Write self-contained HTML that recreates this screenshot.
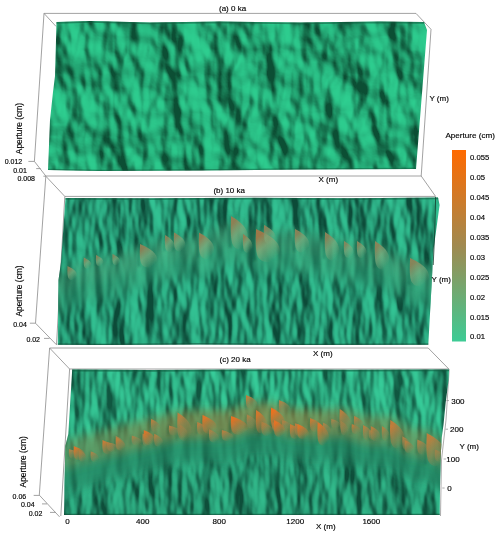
<!DOCTYPE html>
<html><head><meta charset="utf-8">
<style>
html,body{margin:0;padding:0;background:#fff;width:500px;height:537px;overflow:hidden}
svg{display:block}
text{font-family:"Liberation Sans",sans-serif;fill:#000;stroke:#000;stroke-width:0.15px}
.t{will-change:transform}
</style></head><body>
<svg width="500" height="537" viewBox="0 0 500 537" xmlns="http://www.w3.org/2000/svg">
<defs>
<linearGradient id="tintc" gradientUnits="userSpaceOnUse" x1="60" y1="0" x2="450" y2="0">
<stop offset="0" stop-color="#8c8a48" stop-opacity="0.4"/>
<stop offset="0.3" stop-color="#9c8440" stop-opacity="0.55"/>
<stop offset="0.55" stop-color="#a8823a" stop-opacity="0.6"/>
<stop offset="0.8" stop-color="#948a48" stop-opacity="0.5"/>
<stop offset="1" stop-color="#8c8a48" stop-opacity="0.45"/>
</linearGradient>
<linearGradient id="cb" x1="0" y1="0" x2="0" y2="1">
<stop offset="0" stop-color="#ff6a00"/>
<stop offset="0.5" stop-color="#a08a50"/>
<stop offset="1" stop-color="#3dcb95"/>
</linearGradient>
<filter id="fa" x="0" y="0" width="100%" height="100%" color-interpolation-filters="sRGB">
<feTurbulence type="fractalNoise" baseFrequency="0.035 0.02" numOctaves="3" seed="11" result="n"/><feGaussianBlur in="n" stdDeviation="0.5" result="n"/>
<feDiffuseLighting in="n" surfaceScale="14" diffuseConstant="1" lighting-color="#fff" result="l"><feDistantLight azimuth="-40" elevation="38"/></feDiffuseLighting>
<feComponentTransfer><feFuncR type="gamma" amplitude="1" exponent="0.8" offset="0"/></feComponentTransfer>
<feColorMatrix type="matrix" values="0.133 0 0 0 0.047  0.502 0 0 0 0.306  0.361 0 0 0 0.204  0 0 0 0 1"/></filter>
<filter id="fb" x="0" y="0" width="100%" height="100%" color-interpolation-filters="sRGB">
<feTurbulence type="fractalNoise" baseFrequency="0.05 0.018" numOctaves="3" seed="5" result="n"/><feGaussianBlur in="n" stdDeviation="0.5" result="n"/>
<feDiffuseLighting in="n" surfaceScale="8" diffuseConstant="1" lighting-color="#fff" result="l"><feDistantLight azimuth="-20" elevation="35"/></feDiffuseLighting>
<feComponentTransfer><feFuncR type="gamma" amplitude="1" exponent="0.95" offset="0"/></feComponentTransfer>
<feColorMatrix type="matrix" values="0.157 0 0 0 0.047  0.486 0 0 0 0.290  0.369 0 0 0 0.220  0 0 0 0 1"/></filter>
<filter id="fc" x="0" y="0" width="100%" height="100%" color-interpolation-filters="sRGB">
<feTurbulence type="fractalNoise" baseFrequency="0.05 0.018" numOctaves="3" seed="8" result="n"/><feGaussianBlur in="n" stdDeviation="0.5" result="n"/>
<feDiffuseLighting in="n" surfaceScale="8" diffuseConstant="1" lighting-color="#fff" result="l"><feDistantLight azimuth="-20" elevation="35"/></feDiffuseLighting>
<feComponentTransfer><feFuncR type="gamma" amplitude="1" exponent="0.9" offset="0"/></feComponentTransfer>
<feColorMatrix type="matrix" values="0.157 0 0 0 0.063  0.478 0 0 0 0.337  0.361 0 0 0 0.251  0 0 0 0 1"/></filter>
<filter id="fbs" x="0" y="0" width="100%" height="100%" color-interpolation-filters="sRGB">
<feTurbulence type="fractalNoise" baseFrequency="0.06 0.012" numOctaves="2" seed="13" result="n"/>
<feDiffuseLighting in="n" surfaceScale="12" diffuseConstant="1" lighting-color="#fff" result="l"><feDistantLight azimuth="-30" elevation="40"/></feDiffuseLighting>
<feComponentTransfer><feFuncR type="gamma" amplitude="1" exponent="0.9" offset="0"/></feComponentTransfer>
<feGaussianBlur stdDeviation="1.2 3"/>
<feColorMatrix type="matrix" values="0.157 0 0 0 0.086  0.333 0 0 0 0.392  0.247 0 0 0 0.294  0 0 0 0 1"/></filter>
<filter id="fcs" x="0" y="0" width="100%" height="100%" color-interpolation-filters="sRGB">
<feTurbulence type="fractalNoise" baseFrequency="0.07 0.012" numOctaves="2" seed="14" result="n"/>
<feDiffuseLighting in="n" surfaceScale="10" diffuseConstant="1" lighting-color="#fff" result="l"><feDistantLight azimuth="-25" elevation="40"/></feDiffuseLighting>
<feComponentTransfer><feFuncR type="gamma" amplitude="1" exponent="0.75" offset="0"/></feComponentTransfer>
<feGaussianBlur stdDeviation="1.5 4"/>
<feColorMatrix type="matrix" values="0.118 0 0 0 0.098  0.314 0 0 0 0.392  0.235 0 0 0 0.294  0 0 0 0 1"/></filter>
<filter id="bl5" x="-20%" y="-50%" width="140%" height="200%"><feGaussianBlur stdDeviation="5"/></filter>
<filter id="bl6" x="-20%" y="-50%" width="140%" height="200%"><feGaussianBlur stdDeviation="6"/></filter>
<filter id="bl07" x="-20%" y="-20%" width="140%" height="140%"><feGaussianBlur stdDeviation="0.7"/></filter>
<filter id="bl05" x="-20%" y="-20%" width="140%" height="140%"><feGaussianBlur stdDeviation="0.5"/></filter>
<filter id="bl1" x="-20%" y="-20%" width="140%" height="140%"><feGaussianBlur stdDeviation="0.8"/></filter>
<linearGradient id="gb0" x1="0" y1="0" x2="0.6" y2="1"><stop offset="0" stop-color="rgb(136, 134, 92)"/><stop offset="0.22" stop-color="rgb(136, 134, 92)" stop-opacity="0.92"/><stop offset="0.55" stop-color="rgb(122, 170, 124)" stop-opacity="0.7"/><stop offset="1" stop-color="rgb(122, 170, 124)" stop-opacity="0"/></linearGradient>
<linearGradient id="gb1" x1="0" y1="0" x2="0.6" y2="1"><stop offset="0" stop-color="rgb(136, 134, 92)"/><stop offset="0.22" stop-color="rgb(136, 134, 92)" stop-opacity="0.92"/><stop offset="0.55" stop-color="rgb(122, 170, 124)" stop-opacity="0.7"/><stop offset="1" stop-color="rgb(122, 170, 124)" stop-opacity="0"/></linearGradient>
<linearGradient id="gb2" x1="0" y1="0" x2="0.6" y2="1"><stop offset="0" stop-color="rgb(136, 134, 92)"/><stop offset="0.22" stop-color="rgb(136, 134, 92)" stop-opacity="0.92"/><stop offset="0.55" stop-color="rgb(122, 170, 124)" stop-opacity="0.7"/><stop offset="1" stop-color="rgb(122, 170, 124)" stop-opacity="0"/></linearGradient>
<linearGradient id="gb3" x1="0" y1="0" x2="0.6" y2="1"><stop offset="0" stop-color="rgb(133, 135, 94)"/><stop offset="0.22" stop-color="rgb(133, 135, 94)" stop-opacity="0.92"/><stop offset="0.55" stop-color="rgb(120, 170, 125)" stop-opacity="0.7"/><stop offset="1" stop-color="rgb(120, 170, 125)" stop-opacity="0"/></linearGradient>
<linearGradient id="gb4" x1="0" y1="0" x2="0.6" y2="1"><stop offset="0" stop-color="rgb(144, 129, 86)"/><stop offset="0.22" stop-color="rgb(144, 129, 86)" stop-opacity="0.92"/><stop offset="0.55" stop-color="rgb(127, 168, 122)" stop-opacity="0.7"/><stop offset="1" stop-color="rgb(127, 168, 122)" stop-opacity="0"/></linearGradient>
<linearGradient id="gb5" x1="0" y1="0" x2="0.6" y2="1"><stop offset="0" stop-color="rgb(138, 132, 90)"/><stop offset="0.22" stop-color="rgb(138, 132, 90)" stop-opacity="0.92"/><stop offset="0.55" stop-color="rgb(123, 169, 124)" stop-opacity="0.7"/><stop offset="1" stop-color="rgb(123, 169, 124)" stop-opacity="0"/></linearGradient>
<linearGradient id="gb6" x1="0" y1="0" x2="0.6" y2="1"><stop offset="0" stop-color="rgb(141, 131, 88)"/><stop offset="0.22" stop-color="rgb(141, 131, 88)" stop-opacity="0.92"/><stop offset="0.55" stop-color="rgb(125, 169, 123)" stop-opacity="0.7"/><stop offset="1" stop-color="rgb(125, 169, 123)" stop-opacity="0"/></linearGradient>
<linearGradient id="gb7" x1="0" y1="0" x2="0.6" y2="1"><stop offset="0" stop-color="rgb(149, 126, 82)"/><stop offset="0.22" stop-color="rgb(149, 126, 82)" stop-opacity="0.92"/><stop offset="0.55" stop-color="rgb(130, 167, 120)" stop-opacity="0.7"/><stop offset="1" stop-color="rgb(130, 167, 120)" stop-opacity="0"/></linearGradient>
<linearGradient id="gb8" x1="0" y1="0" x2="0.6" y2="1"><stop offset="0" stop-color="rgb(149, 126, 82)"/><stop offset="0.22" stop-color="rgb(149, 126, 82)" stop-opacity="0.92"/><stop offset="0.55" stop-color="rgb(130, 167, 120)" stop-opacity="0.7"/><stop offset="1" stop-color="rgb(130, 167, 120)" stop-opacity="0"/></linearGradient>
<linearGradient id="gb9" x1="0" y1="0" x2="0.6" y2="1"><stop offset="0" stop-color="rgb(147, 128, 84)"/><stop offset="0.22" stop-color="rgb(147, 128, 84)" stop-opacity="0.92"/><stop offset="0.55" stop-color="rgb(129, 168, 121)" stop-opacity="0.7"/><stop offset="1" stop-color="rgb(129, 168, 121)" stop-opacity="0"/></linearGradient>
<linearGradient id="gb10" x1="0" y1="0" x2="0.6" y2="1"><stop offset="0" stop-color="rgb(163, 119, 72)"/><stop offset="0.22" stop-color="rgb(163, 119, 72)" stop-opacity="0.92"/><stop offset="0.55" stop-color="rgb(139, 165, 116)" stop-opacity="0.7"/><stop offset="1" stop-color="rgb(139, 165, 116)" stop-opacity="0"/></linearGradient>
<linearGradient id="gb11" x1="0" y1="0" x2="0.6" y2="1"><stop offset="0" stop-color="rgb(141, 131, 88)"/><stop offset="0.22" stop-color="rgb(141, 131, 88)" stop-opacity="0.92"/><stop offset="0.55" stop-color="rgb(125, 169, 123)" stop-opacity="0.7"/><stop offset="1" stop-color="rgb(125, 169, 123)" stop-opacity="0"/></linearGradient>
<linearGradient id="gb12" x1="0" y1="0" x2="0.6" y2="1"><stop offset="0" stop-color="rgb(141, 131, 88)"/><stop offset="0.22" stop-color="rgb(141, 131, 88)" stop-opacity="0.92"/><stop offset="0.55" stop-color="rgb(125, 169, 123)" stop-opacity="0.7"/><stop offset="1" stop-color="rgb(125, 169, 123)" stop-opacity="0"/></linearGradient>
<linearGradient id="gb13" x1="0" y1="0" x2="0.6" y2="1"><stop offset="0" stop-color="rgb(141, 131, 88)"/><stop offset="0.22" stop-color="rgb(141, 131, 88)" stop-opacity="0.92"/><stop offset="0.55" stop-color="rgb(125, 169, 123)" stop-opacity="0.7"/><stop offset="1" stop-color="rgb(125, 169, 123)" stop-opacity="0"/></linearGradient>
<linearGradient id="gb14" x1="0" y1="0" x2="0.6" y2="1"><stop offset="0" stop-color="rgb(136, 134, 92)"/><stop offset="0.22" stop-color="rgb(136, 134, 92)" stop-opacity="0.92"/><stop offset="0.55" stop-color="rgb(122, 170, 124)" stop-opacity="0.7"/><stop offset="1" stop-color="rgb(122, 170, 124)" stop-opacity="0"/></linearGradient>
<linearGradient id="gb15" x1="0" y1="0" x2="0.6" y2="1"><stop offset="0" stop-color="rgb(136, 134, 92)"/><stop offset="0.22" stop-color="rgb(136, 134, 92)" stop-opacity="0.92"/><stop offset="0.55" stop-color="rgb(122, 170, 124)" stop-opacity="0.7"/><stop offset="1" stop-color="rgb(122, 170, 124)" stop-opacity="0"/></linearGradient>
<linearGradient id="gb16" x1="0" y1="0" x2="0.6" y2="1"><stop offset="0" stop-color="rgb(141, 131, 88)"/><stop offset="0.22" stop-color="rgb(141, 131, 88)" stop-opacity="0.92"/><stop offset="0.55" stop-color="rgb(125, 169, 123)" stop-opacity="0.7"/><stop offset="1" stop-color="rgb(125, 169, 123)" stop-opacity="0"/></linearGradient>
<linearGradient id="gb17" x1="0" y1="0" x2="0.6" y2="1"><stop offset="0" stop-color="rgb(141, 131, 88)"/><stop offset="0.22" stop-color="rgb(141, 131, 88)" stop-opacity="0.92"/><stop offset="0.55" stop-color="rgb(125, 169, 123)" stop-opacity="0.7"/><stop offset="1" stop-color="rgb(125, 169, 123)" stop-opacity="0"/></linearGradient><linearGradient id="gc0" x1="0" y1="0" x2="0.6" y2="1"><stop offset="0" stop-color="rgb(165, 133, 75)"/><stop offset="0.22" stop-color="rgb(165, 133, 75)" stop-opacity="0.92"/><stop offset="0.55" stop-color="rgb(128, 135, 85)" stop-opacity="0.7"/><stop offset="1" stop-color="rgb(128, 135, 85)" stop-opacity="0"/></linearGradient>
<linearGradient id="gc1" x1="0" y1="0" x2="0.6" y2="1"><stop offset="0" stop-color="rgb(165, 132, 74)"/><stop offset="0.22" stop-color="rgb(165, 132, 74)" stop-opacity="0.92"/><stop offset="0.55" stop-color="rgb(128, 134, 84)" stop-opacity="0.7"/><stop offset="1" stop-color="rgb(128, 134, 84)" stop-opacity="0"/></linearGradient>
<linearGradient id="gc2" x1="0" y1="0" x2="0.6" y2="1"><stop offset="0" stop-color="rgb(167, 132, 73)"/><stop offset="0.22" stop-color="rgb(167, 132, 73)" stop-opacity="0.92"/><stop offset="0.55" stop-color="rgb(130, 134, 83)" stop-opacity="0.7"/><stop offset="1" stop-color="rgb(130, 134, 83)" stop-opacity="0"/></linearGradient>
<linearGradient id="gc3" x1="0" y1="0" x2="0.6" y2="1"><stop offset="0" stop-color="rgb(172, 130, 70)"/><stop offset="0.22" stop-color="rgb(172, 130, 70)" stop-opacity="0.92"/><stop offset="0.55" stop-color="rgb(134, 133, 82)" stop-opacity="0.7"/><stop offset="1" stop-color="rgb(134, 133, 82)" stop-opacity="0"/></linearGradient>
<linearGradient id="gc4" x1="0" y1="0" x2="0.6" y2="1"><stop offset="0" stop-color="rgb(167, 132, 73)"/><stop offset="0.22" stop-color="rgb(167, 132, 73)" stop-opacity="0.92"/><stop offset="0.55" stop-color="rgb(130, 134, 84)" stop-opacity="0.7"/><stop offset="1" stop-color="rgb(130, 134, 84)" stop-opacity="0"/></linearGradient>
<linearGradient id="gc5" x1="0" y1="0" x2="0.6" y2="1"><stop offset="0" stop-color="rgb(165, 132, 74)"/><stop offset="0.22" stop-color="rgb(165, 132, 74)" stop-opacity="0.92"/><stop offset="0.55" stop-color="rgb(129, 134, 84)" stop-opacity="0.7"/><stop offset="1" stop-color="rgb(129, 134, 84)" stop-opacity="0"/></linearGradient>
<linearGradient id="gc6" x1="0" y1="0" x2="0.6" y2="1"><stop offset="0" stop-color="rgb(172, 130, 70)"/><stop offset="0.22" stop-color="rgb(172, 130, 70)" stop-opacity="0.92"/><stop offset="0.55" stop-color="rgb(134, 133, 81)" stop-opacity="0.7"/><stop offset="1" stop-color="rgb(134, 133, 81)" stop-opacity="0"/></linearGradient>
<linearGradient id="gc7" x1="0" y1="0" x2="0.6" y2="1"><stop offset="0" stop-color="rgb(175, 130, 68)"/><stop offset="0.22" stop-color="rgb(175, 130, 68)" stop-opacity="0.92"/><stop offset="0.55" stop-color="rgb(136, 132, 80)" stop-opacity="0.7"/><stop offset="1" stop-color="rgb(136, 132, 80)" stop-opacity="0"/></linearGradient>
<linearGradient id="gc8" x1="0" y1="0" x2="0.6" y2="1"><stop offset="0" stop-color="rgb(175, 130, 68)"/><stop offset="0.22" stop-color="rgb(175, 130, 68)" stop-opacity="0.92"/><stop offset="0.55" stop-color="rgb(136, 132, 80)" stop-opacity="0.7"/><stop offset="1" stop-color="rgb(136, 132, 80)" stop-opacity="0"/></linearGradient>
<linearGradient id="gc9" x1="0" y1="0" x2="0.6" y2="1"><stop offset="0" stop-color="rgb(186, 126, 62)"/><stop offset="0.22" stop-color="rgb(186, 126, 62)" stop-opacity="0.92"/><stop offset="0.55" stop-color="rgb(144, 130, 76)" stop-opacity="0.7"/><stop offset="1" stop-color="rgb(144, 130, 76)" stop-opacity="0"/></linearGradient>
<linearGradient id="gc10" x1="0" y1="0" x2="0.6" y2="1"><stop offset="0" stop-color="rgb(183, 127, 64)"/><stop offset="0.22" stop-color="rgb(183, 127, 64)" stop-opacity="0.92"/><stop offset="0.55" stop-color="rgb(142, 131, 77)" stop-opacity="0.7"/><stop offset="1" stop-color="rgb(142, 131, 77)" stop-opacity="0"/></linearGradient>
<linearGradient id="gc11" x1="0" y1="0" x2="0.6" y2="1"><stop offset="0" stop-color="rgb(167, 132, 73)"/><stop offset="0.22" stop-color="rgb(167, 132, 73)" stop-opacity="0.92"/><stop offset="0.55" stop-color="rgb(130, 134, 84)" stop-opacity="0.7"/><stop offset="1" stop-color="rgb(130, 134, 84)" stop-opacity="0"/></linearGradient>
<linearGradient id="gc12" x1="0" y1="0" x2="0.6" y2="1"><stop offset="0" stop-color="rgb(179, 128, 66)"/><stop offset="0.22" stop-color="rgb(179, 128, 66)" stop-opacity="0.92"/><stop offset="0.55" stop-color="rgb(139, 132, 79)" stop-opacity="0.7"/><stop offset="1" stop-color="rgb(139, 132, 79)" stop-opacity="0"/></linearGradient>
<linearGradient id="gc13" x1="0" y1="0" x2="0.6" y2="1"><stop offset="0" stop-color="rgb(167, 132, 73)"/><stop offset="0.22" stop-color="rgb(167, 132, 73)" stop-opacity="0.92"/><stop offset="0.55" stop-color="rgb(130, 134, 84)" stop-opacity="0.7"/><stop offset="1" stop-color="rgb(130, 134, 84)" stop-opacity="0"/></linearGradient>
<linearGradient id="gc14" x1="0" y1="0" x2="0.6" y2="1"><stop offset="0" stop-color="rgb(168, 131, 72)"/><stop offset="0.22" stop-color="rgb(168, 131, 72)" stop-opacity="0.92"/><stop offset="0.55" stop-color="rgb(131, 134, 83)" stop-opacity="0.7"/><stop offset="1" stop-color="rgb(131, 134, 83)" stop-opacity="0"/></linearGradient>
<linearGradient id="gc15" x1="0" y1="0" x2="0.6" y2="1"><stop offset="0" stop-color="rgb(178, 129, 66)"/><stop offset="0.22" stop-color="rgb(178, 129, 66)" stop-opacity="0.92"/><stop offset="0.55" stop-color="rgb(138, 132, 79)" stop-opacity="0.7"/><stop offset="1" stop-color="rgb(138, 132, 79)" stop-opacity="0"/></linearGradient>
<linearGradient id="gc16" x1="0" y1="0" x2="0.6" y2="1"><stop offset="0" stop-color="rgb(173, 130, 69)"/><stop offset="0.22" stop-color="rgb(173, 130, 69)" stop-opacity="0.92"/><stop offset="0.55" stop-color="rgb(135, 133, 81)" stop-opacity="0.7"/><stop offset="1" stop-color="rgb(135, 133, 81)" stop-opacity="0"/></linearGradient>
<linearGradient id="gc17" x1="0" y1="0" x2="0.6" y2="1"><stop offset="0" stop-color="rgb(165, 132, 74)"/><stop offset="0.22" stop-color="rgb(165, 132, 74)" stop-opacity="0.92"/><stop offset="0.55" stop-color="rgb(128, 134, 84)" stop-opacity="0.7"/><stop offset="1" stop-color="rgb(128, 134, 84)" stop-opacity="0"/></linearGradient>
<linearGradient id="gc18" x1="0" y1="0" x2="0.6" y2="1"><stop offset="0" stop-color="rgb(186, 126, 62)"/><stop offset="0.22" stop-color="rgb(186, 126, 62)" stop-opacity="0.92"/><stop offset="0.55" stop-color="rgb(144, 130, 76)" stop-opacity="0.7"/><stop offset="1" stop-color="rgb(144, 130, 76)" stop-opacity="0"/></linearGradient>
<linearGradient id="gc19" x1="0" y1="0" x2="0.6" y2="1"><stop offset="0" stop-color="rgb(198, 123, 54)"/><stop offset="0.22" stop-color="rgb(198, 123, 54)" stop-opacity="0.92"/><stop offset="0.55" stop-color="rgb(153, 128, 71)" stop-opacity="0.7"/><stop offset="1" stop-color="rgb(153, 128, 71)" stop-opacity="0"/></linearGradient>
<linearGradient id="gc20" x1="0" y1="0" x2="0.6" y2="1"><stop offset="0" stop-color="rgb(167, 132, 73)"/><stop offset="0.22" stop-color="rgb(167, 132, 73)" stop-opacity="0.92"/><stop offset="0.55" stop-color="rgb(130, 134, 84)" stop-opacity="0.7"/><stop offset="1" stop-color="rgb(130, 134, 84)" stop-opacity="0"/></linearGradient>
<linearGradient id="gc21" x1="0" y1="0" x2="0.6" y2="1"><stop offset="0" stop-color="rgb(165, 132, 74)"/><stop offset="0.22" stop-color="rgb(165, 132, 74)" stop-opacity="0.92"/><stop offset="0.55" stop-color="rgb(128, 134, 84)" stop-opacity="0.7"/><stop offset="1" stop-color="rgb(128, 134, 84)" stop-opacity="0"/></linearGradient>
<linearGradient id="gc22" x1="0" y1="0" x2="0.6" y2="1"><stop offset="0" stop-color="rgb(183, 127, 64)"/><stop offset="0.22" stop-color="rgb(183, 127, 64)" stop-opacity="0.92"/><stop offset="0.55" stop-color="rgb(142, 131, 77)" stop-opacity="0.7"/><stop offset="1" stop-color="rgb(142, 131, 77)" stop-opacity="0"/></linearGradient>
<linearGradient id="gc23" x1="0" y1="0" x2="0.6" y2="1"><stop offset="0" stop-color="rgb(187, 126, 61)"/><stop offset="0.22" stop-color="rgb(187, 126, 61)" stop-opacity="0.92"/><stop offset="0.55" stop-color="rgb(145, 130, 75)" stop-opacity="0.7"/><stop offset="1" stop-color="rgb(145, 130, 75)" stop-opacity="0"/></linearGradient>
<linearGradient id="gc24" x1="0" y1="0" x2="0.6" y2="1"><stop offset="0" stop-color="rgb(172, 130, 70)"/><stop offset="0.22" stop-color="rgb(172, 130, 70)" stop-opacity="0.92"/><stop offset="0.55" stop-color="rgb(134, 133, 81)" stop-opacity="0.7"/><stop offset="1" stop-color="rgb(134, 133, 81)" stop-opacity="0"/></linearGradient>
<linearGradient id="gc25" x1="0" y1="0" x2="0.6" y2="1"><stop offset="0" stop-color="rgb(175, 130, 68)"/><stop offset="0.22" stop-color="rgb(175, 130, 68)" stop-opacity="0.92"/><stop offset="0.55" stop-color="rgb(136, 132, 80)" stop-opacity="0.7"/><stop offset="1" stop-color="rgb(136, 132, 80)" stop-opacity="0"/></linearGradient>
<linearGradient id="gc26" x1="0" y1="0" x2="0.6" y2="1"><stop offset="0" stop-color="rgb(179, 128, 66)"/><stop offset="0.22" stop-color="rgb(179, 128, 66)" stop-opacity="0.92"/><stop offset="0.55" stop-color="rgb(139, 132, 79)" stop-opacity="0.7"/><stop offset="1" stop-color="rgb(139, 132, 79)" stop-opacity="0"/></linearGradient>
<linearGradient id="gc27" x1="0" y1="0" x2="0.6" y2="1"><stop offset="0" stop-color="rgb(172, 130, 70)"/><stop offset="0.22" stop-color="rgb(172, 130, 70)" stop-opacity="0.92"/><stop offset="0.55" stop-color="rgb(134, 133, 82)" stop-opacity="0.7"/><stop offset="1" stop-color="rgb(134, 133, 82)" stop-opacity="0"/></linearGradient>
<linearGradient id="gc28" x1="0" y1="0" x2="0.6" y2="1"><stop offset="0" stop-color="rgb(173, 130, 70)"/><stop offset="0.22" stop-color="rgb(173, 130, 70)" stop-opacity="0.92"/><stop offset="0.55" stop-color="rgb(134, 133, 81)" stop-opacity="0.7"/><stop offset="1" stop-color="rgb(134, 133, 81)" stop-opacity="0"/></linearGradient>
<linearGradient id="gc29" x1="0" y1="0" x2="0.6" y2="1"><stop offset="0" stop-color="rgb(167, 132, 73)"/><stop offset="0.22" stop-color="rgb(167, 132, 73)" stop-opacity="0.92"/><stop offset="0.55" stop-color="rgb(130, 134, 84)" stop-opacity="0.7"/><stop offset="1" stop-color="rgb(130, 134, 84)" stop-opacity="0"/></linearGradient>
<linearGradient id="gc30" x1="0" y1="0" x2="0.6" y2="1"><stop offset="0" stop-color="rgb(220, 117, 42)"/><stop offset="0.22" stop-color="rgb(220, 117, 42)" stop-opacity="0.92"/><stop offset="0.55" stop-color="rgb(170, 124, 63)" stop-opacity="0.7"/><stop offset="1" stop-color="rgb(170, 124, 63)" stop-opacity="0"/></linearGradient>
<linearGradient id="gc31" x1="0" y1="0" x2="0.6" y2="1"><stop offset="0" stop-color="rgb(200, 123, 54)"/><stop offset="0.22" stop-color="rgb(200, 123, 54)" stop-opacity="0.92"/><stop offset="0.55" stop-color="rgb(155, 128, 71)" stop-opacity="0.7"/><stop offset="1" stop-color="rgb(155, 128, 71)" stop-opacity="0"/></linearGradient>
<linearGradient id="gc32" x1="0" y1="0" x2="0.6" y2="1"><stop offset="0" stop-color="rgb(190, 126, 60)"/><stop offset="0.22" stop-color="rgb(190, 126, 60)" stop-opacity="0.92"/><stop offset="0.55" stop-color="rgb(147, 130, 75)" stop-opacity="0.7"/><stop offset="1" stop-color="rgb(147, 130, 75)" stop-opacity="0"/></linearGradient>
<linearGradient id="gc33" x1="0" y1="0" x2="0.6" y2="1"><stop offset="0" stop-color="rgb(220, 117, 42)"/><stop offset="0.22" stop-color="rgb(220, 117, 42)" stop-opacity="0.92"/><stop offset="0.55" stop-color="rgb(170, 124, 63)" stop-opacity="0.7"/><stop offset="1" stop-color="rgb(170, 124, 63)" stop-opacity="0"/></linearGradient>
<linearGradient id="gc34" x1="0" y1="0" x2="0.6" y2="1"><stop offset="0" stop-color="rgb(180, 128, 66)"/><stop offset="0.22" stop-color="rgb(180, 128, 66)" stop-opacity="0.92"/><stop offset="0.55" stop-color="rgb(140, 132, 79)" stop-opacity="0.7"/><stop offset="1" stop-color="rgb(140, 132, 79)" stop-opacity="0"/></linearGradient>
<linearGradient id="gc35" x1="0" y1="0" x2="0.6" y2="1"><stop offset="0" stop-color="rgb(185, 127, 63)"/><stop offset="0.22" stop-color="rgb(185, 127, 63)" stop-opacity="0.92"/><stop offset="0.55" stop-color="rgb(143, 131, 77)" stop-opacity="0.7"/><stop offset="1" stop-color="rgb(143, 131, 77)" stop-opacity="0"/></linearGradient>
<linearGradient id="gc36" x1="0" y1="0" x2="0.6" y2="1"><stop offset="0" stop-color="rgb(225, 116, 39)"/><stop offset="0.22" stop-color="rgb(225, 116, 39)" stop-opacity="0.92"/><stop offset="0.55" stop-color="rgb(173, 123, 61)" stop-opacity="0.7"/><stop offset="1" stop-color="rgb(173, 123, 61)" stop-opacity="0"/></linearGradient>
<linearGradient id="gc37" x1="0" y1="0" x2="0.6" y2="1"><stop offset="0" stop-color="rgb(230, 114, 36)"/><stop offset="0.22" stop-color="rgb(230, 114, 36)" stop-opacity="0.92"/><stop offset="0.55" stop-color="rgb(177, 122, 59)" stop-opacity="0.7"/><stop offset="1" stop-color="rgb(177, 122, 59)" stop-opacity="0"/></linearGradient>
<linearGradient id="gc38" x1="0" y1="0" x2="0.6" y2="1"><stop offset="0" stop-color="rgb(190, 126, 60)"/><stop offset="0.22" stop-color="rgb(190, 126, 60)" stop-opacity="0.92"/><stop offset="0.55" stop-color="rgb(147, 130, 75)" stop-opacity="0.7"/><stop offset="1" stop-color="rgb(147, 130, 75)" stop-opacity="0"/></linearGradient>
<linearGradient id="gc39" x1="0" y1="0" x2="0.6" y2="1"><stop offset="0" stop-color="rgb(215, 119, 45)"/><stop offset="0.22" stop-color="rgb(215, 119, 45)" stop-opacity="0.92"/><stop offset="0.55" stop-color="rgb(166, 125, 65)" stop-opacity="0.7"/><stop offset="1" stop-color="rgb(166, 125, 65)" stop-opacity="0"/></linearGradient>
<linearGradient id="gc40" x1="0" y1="0" x2="0.6" y2="1"><stop offset="0" stop-color="rgb(240, 112, 30)"/><stop offset="0.22" stop-color="rgb(240, 112, 30)" stop-opacity="0.92"/><stop offset="0.55" stop-color="rgb(185, 120, 55)" stop-opacity="0.7"/><stop offset="1" stop-color="rgb(185, 120, 55)" stop-opacity="0"/></linearGradient>
<linearGradient id="gc41" x1="0" y1="0" x2="0.6" y2="1"><stop offset="0" stop-color="rgb(230, 114, 36)"/><stop offset="0.22" stop-color="rgb(230, 114, 36)" stop-opacity="0.92"/><stop offset="0.55" stop-color="rgb(177, 122, 59)" stop-opacity="0.7"/><stop offset="1" stop-color="rgb(177, 122, 59)" stop-opacity="0"/></linearGradient>
<linearGradient id="gc42" x1="0" y1="0" x2="0.6" y2="1"><stop offset="0" stop-color="rgb(175, 130, 69)"/><stop offset="0.22" stop-color="rgb(175, 130, 69)" stop-opacity="0.92"/><stop offset="0.55" stop-color="rgb(136, 133, 81)" stop-opacity="0.7"/><stop offset="1" stop-color="rgb(136, 133, 81)" stop-opacity="0"/></linearGradient>
<linearGradient id="gc43" x1="0" y1="0" x2="0.6" y2="1"><stop offset="0" stop-color="rgb(200, 123, 54)"/><stop offset="0.22" stop-color="rgb(200, 123, 54)" stop-opacity="0.92"/><stop offset="0.55" stop-color="rgb(155, 128, 71)" stop-opacity="0.7"/><stop offset="1" stop-color="rgb(155, 128, 71)" stop-opacity="0"/></linearGradient>
<linearGradient id="gc44" x1="0" y1="0" x2="0.6" y2="1"><stop offset="0" stop-color="rgb(225, 116, 39)"/><stop offset="0.22" stop-color="rgb(225, 116, 39)" stop-opacity="0.92"/><stop offset="0.55" stop-color="rgb(173, 123, 61)" stop-opacity="0.7"/><stop offset="1" stop-color="rgb(173, 123, 61)" stop-opacity="0"/></linearGradient>
<linearGradient id="gc45" x1="0" y1="0" x2="0.6" y2="1"><stop offset="0" stop-color="rgb(220, 117, 42)"/><stop offset="0.22" stop-color="rgb(220, 117, 42)" stop-opacity="0.92"/><stop offset="0.55" stop-color="rgb(170, 124, 63)" stop-opacity="0.7"/><stop offset="1" stop-color="rgb(170, 124, 63)" stop-opacity="0"/></linearGradient>
<linearGradient id="gc46" x1="0" y1="0" x2="0.6" y2="1"><stop offset="0" stop-color="rgb(185, 127, 63)"/><stop offset="0.22" stop-color="rgb(185, 127, 63)" stop-opacity="0.92"/><stop offset="0.55" stop-color="rgb(143, 131, 77)" stop-opacity="0.7"/><stop offset="1" stop-color="rgb(143, 131, 77)" stop-opacity="0"/></linearGradient>
<linearGradient id="gc47" x1="0" y1="0" x2="0.6" y2="1"><stop offset="0" stop-color="rgb(180, 128, 66)"/><stop offset="0.22" stop-color="rgb(180, 128, 66)" stop-opacity="0.92"/><stop offset="0.55" stop-color="rgb(140, 132, 79)" stop-opacity="0.7"/><stop offset="1" stop-color="rgb(140, 132, 79)" stop-opacity="0"/></linearGradient>
<linearGradient id="gc48" x1="0" y1="0" x2="0.6" y2="1"><stop offset="0" stop-color="rgb(180, 128, 66)"/><stop offset="0.22" stop-color="rgb(180, 128, 66)" stop-opacity="0.92"/><stop offset="0.55" stop-color="rgb(140, 132, 79)" stop-opacity="0.7"/><stop offset="1" stop-color="rgb(140, 132, 79)" stop-opacity="0"/></linearGradient>
<linearGradient id="gc49" x1="0" y1="0" x2="0.6" y2="1"><stop offset="0" stop-color="rgb(185, 127, 63)"/><stop offset="0.22" stop-color="rgb(185, 127, 63)" stop-opacity="0.92"/><stop offset="0.55" stop-color="rgb(143, 131, 77)" stop-opacity="0.7"/><stop offset="1" stop-color="rgb(143, 131, 77)" stop-opacity="0"/></linearGradient>
<linearGradient id="gc50" x1="0" y1="0" x2="0.6" y2="1"><stop offset="0" stop-color="rgb(195, 124, 57)"/><stop offset="0.22" stop-color="rgb(195, 124, 57)" stop-opacity="0.92"/><stop offset="0.55" stop-color="rgb(151, 129, 73)" stop-opacity="0.7"/><stop offset="1" stop-color="rgb(151, 129, 73)" stop-opacity="0"/></linearGradient>
<linearGradient id="gc51" x1="0" y1="0" x2="0.6" y2="1"><stop offset="0" stop-color="rgb(180, 128, 66)"/><stop offset="0.22" stop-color="rgb(180, 128, 66)" stop-opacity="0.92"/><stop offset="0.55" stop-color="rgb(140, 132, 79)" stop-opacity="0.7"/><stop offset="1" stop-color="rgb(140, 132, 79)" stop-opacity="0"/></linearGradient>
<linearGradient id="gc52" x1="0" y1="0" x2="0.6" y2="1"><stop offset="0" stop-color="rgb(190, 126, 60)"/><stop offset="0.22" stop-color="rgb(190, 126, 60)" stop-opacity="0.92"/><stop offset="0.55" stop-color="rgb(147, 130, 75)" stop-opacity="0.7"/><stop offset="1" stop-color="rgb(147, 130, 75)" stop-opacity="0"/></linearGradient>
<clipPath id="ca"><polygon points="56.5,22 90,21 150,22.5 220,21.5 300,22.5 380,21.5 424,22 427,30 416,169 300,169.5 200,170.5 98,171 48,170 50,120 53,92 55,76"/></clipPath>
<clipPath id="cbp"><polygon points="65.5,198 150,198.3 250,197.7 350,198.2 438,197.6 439.6,205 433.5,250 428.3,344.8 300,345 200,344.6 100,345 57.8,344.8 58.5,280 61,262"/></clipPath>
<clipPath id="cc"><polygon points="72.2,369.6 150,369.9 250,369.4 350,369.8 449,369.4 448.6,380 445.7,402.4 443.5,424.7 441.7,438 440.6,458 440.1,480 439.7,515 64,515 65.3,446 68.3,434"/></clipPath>
</defs>
<rect width="500" height="537" fill="#fff"/>
<g stroke="#8a8a8a" stroke-width="0.8" fill="none">
<path d="M44,13.4H416L431,29.3L421.2,176H45.8L34.4,161.4L44,13.4L56,26.4"/>
<path d="M28.4,161.4H34.4M36.2,168.6H40.6M43.4,176.2H45.8"/>
<path d="M45.8,176.2L64.8,196.4H435.6L421.2,176M45.8,176.2L35.5,323.2L56.5,344.8M64.8,196.4L56.5,344.8"/>
<path d="M29.9,323.2H35.5M44,338.4H49.6"/>
<path d="M49.6,348H428.2L448.8,369H69.6L49.6,348L39.3,495.1L59.6,516.9M69.6,369L60.8,516"/>
<path d="M33.7,495.4H39.6M42,503.9H47M50,512.4H55.6"/>
<path d="M449.2,369L447.6,395L446,420L441.5,460L440.5,516" stroke-width="0.7"/>
<path d="M446.4,400.6H449M445.5,429.2H448M443.6,459H446M442.3,488H444.6" stroke-width="0.7"/>
</g>
<g clip-path="url(#ca)"><rect x="40" y="15" width="400" height="160" filter="url(#fa)"/></g>
<g clip-path="url(#cbp)"><rect x="50" y="190" width="400" height="160" filter="url(#fb)"/></g>
<g clip-path="url(#cc)"><rect x="55" y="360" width="400" height="160" filter="url(#fc)"/></g>
<mask id="mb" maskUnits="userSpaceOnUse" x="0" y="0" width="500" height="537"><path d="M55.0,275.0 L66.0,273.0 L83.0,263.0 L108.0,260.0 L139.0,249.0 L168.0,241.0 L200.0,238.0 L232.0,223.0 L258.0,234.0 L296.0,233.0 L326.0,239.0 L358.0,246.0 L378.0,248.0 L410.0,263.0 L435.0,271.0 L445.0,273.0 L445.0,310.0 L435.0,308.0 L410.0,300.0 L378.0,285.0 L358.0,283.0 L326.0,276.0 L296.0,270.0 L258.0,271.0 L232.0,260.0 L200.0,275.0 L168.0,278.0 L139.0,286.0 L108.0,297.0 L83.0,300.0 L66.0,310.0 L55.0,312.0Z" fill="#fff" fill-opacity="0.8" filter="url(#bl6)"/></mask>
<g clip-path="url(#cbp)">
<rect x="50" y="190" width="400" height="160" filter="url(#fbs)" mask="url(#mb)"/>
<path d="M55.0,272.0 L66.0,270.0 L83.0,260.0 L108.0,257.0 L139.0,246.0 L168.0,238.0 L200.0,235.0 L232.0,220.0 L258.0,231.0 L296.0,230.0 L326.0,236.0 L358.0,243.0 L378.0,245.0 L410.0,260.0 L435.0,268.0 L445.0,270.0 L445.0,292.0 L435.0,290.0 L410.0,282.0 L378.0,267.0 L358.0,265.0 L326.0,258.0 L296.0,252.0 L258.0,253.0 L232.0,242.0 L200.0,257.0 L168.0,260.0 L139.0,268.0 L108.0,279.0 L83.0,282.0 L66.0,292.0 L55.0,294.0Z" fill="#8caa80" opacity="0.1" filter="url(#bl5)"/>
</g><mask id="mc" maskUnits="userSpaceOnUse" x="0" y="0" width="500" height="537"><path d="M60.0,451.0 L73.0,446.0 L100.0,439.0 L150.0,426.0 L180.0,419.0 L200.0,418.0 L230.0,418.0 L250.0,411.0 L272.0,411.0 L290.0,416.0 L320.0,418.0 L342.0,416.0 L365.0,424.0 L392.0,424.0 L410.0,436.0 L430.0,438.0 L440.0,446.0 L455.0,448.0 L455.0,492.0 L440.0,490.0 L430.0,482.0 L410.0,480.0 L392.0,468.0 L365.0,468.0 L342.0,460.0 L320.0,462.0 L290.0,460.0 L272.0,455.0 L250.0,455.0 L230.0,462.0 L200.0,462.0 L180.0,463.0 L150.0,470.0 L100.0,483.0 L73.0,490.0 L60.0,495.0Z" fill="#fff" fill-opacity="0.8" filter="url(#bl6)"/></mask>
<g clip-path="url(#cc)">
<rect x="55" y="360" width="400" height="160" filter="url(#fcs)" mask="url(#mc)"/>
<path d="M60.0,467.0 L73.0,462.0 L100.0,455.0 L150.0,442.0 L180.0,435.0 L200.0,434.0 L230.0,434.0 L250.0,427.0 L272.0,427.0 L290.0,432.0 L320.0,434.0 L342.0,432.0 L365.0,440.0 L392.0,440.0 L410.0,452.0 L430.0,454.0 L440.0,462.0 L455.0,464.0 L455.0,490.0 L440.0,488.0 L430.0,480.0 L410.0,478.0 L392.0,466.0 L365.0,466.0 L342.0,458.0 L320.0,460.0 L290.0,458.0 L272.0,453.0 L250.0,453.0 L230.0,460.0 L200.0,460.0 L180.0,461.0 L150.0,468.0 L100.0,481.0 L73.0,488.0 L60.0,493.0Z" fill="#1e7858" opacity="0.45" filter="url(#bl5)"/>
<path d="M60.0,443.0 L73.0,438.0 L100.0,431.0 L150.0,418.0 L180.0,411.0 L200.0,410.0 L230.0,410.0 L250.0,403.0 L272.0,403.0 L290.0,408.0 L320.0,410.0 L342.0,408.0 L365.0,416.0 L392.0,416.0 L410.0,428.0 L430.0,430.0 L440.0,438.0 L455.0,440.0 L455.0,468.0 L440.0,466.0 L430.0,458.0 L410.0,456.0 L392.0,444.0 L365.0,444.0 L342.0,436.0 L320.0,438.0 L290.0,436.0 L272.0,431.0 L250.0,431.0 L230.0,438.0 L200.0,438.0 L180.0,439.0 L150.0,446.0 L100.0,459.0 L73.0,466.0 L60.0,471.0Z" fill="url(#tintc)" opacity="1" filter="url(#bl5)"/>
</g>
<g clip-path="url(#cc)"><path d="M60.0,495.0 L73.0,490.0 L100.0,483.0 L150.0,470.0 L180.0,463.0 L200.0,462.0 L230.0,462.0 L250.0,455.0 L272.0,455.0 L290.0,460.0 L320.0,462.0 L342.0,460.0 L365.0,468.0 L392.0,468.0 L410.0,480.0 L430.0,482.0 L440.0,490.0 L455.0,492.0 L455,530 L60,530Z" fill="#000" opacity="0.09" filter="url(#bl6)"/></g>
<g clip-path="url(#cbp)">
<g filter="url(#bl1)"><path d="M67.5,266.0 C67.0,270.5 66.3,275.0 67.0,279.5" stroke="#0f4a34" stroke-width="1.4" fill="none" opacity="0.4"/><path d="M83.8,257.5 C83.4,261.1 82.8,264.7 83.4,268.3" stroke="#0f4a34" stroke-width="1.4" fill="none" opacity="0.4"/><path d="M96.0,255.0 C95.6,258.6 95.0,262.2 95.6,265.8" stroke="#0f4a34" stroke-width="1.4" fill="none" opacity="0.4"/><path d="M112.5,254.0 C112.1,257.6 111.5,261.2 112.1,264.8" stroke="#0f4a34" stroke-width="1.4" fill="none" opacity="0.4"/><path d="M140.0,244.0 C139.1,251.5 137.8,259.0 139.1,266.5" stroke="#0f4a34" stroke-width="2.2" fill="none" opacity="0.4"/><path d="M165.0,235.0 C164.5,240.4 163.8,245.8 164.5,251.2" stroke="#0f4a34" stroke-width="1.4" fill="none" opacity="0.4"/><path d="M174.0,232.5 C173.4,238.5 172.6,244.5 173.4,250.5" stroke="#0f4a34" stroke-width="1.4" fill="none" opacity="0.4"/><path d="M199.0,232.5 C198.2,240.9 197.1,249.3 198.2,257.7" stroke="#0f4a34" stroke-width="1.9" fill="none" opacity="0.4"/><path d="M231.0,216.0 C230.1,226.5 228.8,237.0 230.1,247.5" stroke="#0f4a34" stroke-width="2.2" fill="none" opacity="0.4"/><path d="M243.0,234.0 C242.5,240.0 241.8,246.0 242.5,252.0" stroke="#0f4a34" stroke-width="1.4" fill="none" opacity="0.4"/><path d="M256.0,229.0 C254.8,239.5 253.0,250.0 254.8,260.5" stroke="#0f4a34" stroke-width="3.0" fill="none" opacity="0.4"/><path d="M264.0,225.0 C263.4,231.0 262.6,237.0 263.4,243.0" stroke="#0f4a34" stroke-width="1.4" fill="none" opacity="0.4"/><path d="M295.0,229.0 C294.2,236.5 293.2,244.0 294.2,251.5" stroke="#0f4a34" stroke-width="1.8" fill="none" opacity="0.4"/><path d="M325.0,232.0 C324.2,241.0 323.2,250.0 324.2,259.0" stroke="#0f4a34" stroke-width="1.8" fill="none" opacity="0.4"/><path d="M344.0,241.0 C343.5,246.4 342.8,251.8 343.5,257.2" stroke="#0f4a34" stroke-width="1.4" fill="none" opacity="0.4"/><path d="M357.0,241.0 C356.5,246.4 355.8,251.8 356.5,257.2" stroke="#0f4a34" stroke-width="1.4" fill="none" opacity="0.4"/><path d="M375.0,241.0 C374.2,250.0 373.2,259.0 374.2,268.0" stroke="#0f4a34" stroke-width="1.8" fill="none" opacity="0.4"/><path d="M410.0,258.0 C409.0,267.0 407.6,276.0 409.0,285.0" stroke="#0f4a34" stroke-width="2.4" fill="none" opacity="0.4"/></g>
<g filter="url(#bl07)"><path d="M67.5,266.0 C70.5,267.5 77.5,270.5 77.0,275.8 C76.5,281.0 69.5,281.8 68.0,277.2 C67.0,273.5 67.5,269.0 67.5,266.0Z" fill="url(#gb0)"/><path d="M83.8,257.5 C86.2,258.7 91.8,261.1 91.4,265.3 C91.0,269.5 85.4,270.1 84.2,266.5 C83.4,263.5 83.8,259.9 83.8,257.5Z" fill="url(#gb1)"/><path d="M96.0,255.0 C98.4,256.2 104.0,258.6 103.6,262.8 C103.2,267.0 97.6,267.6 96.4,264.0 C95.6,261.0 96.0,257.4 96.0,255.0Z" fill="url(#gb2)"/><path d="M112.5,254.0 C114.9,255.2 120.5,257.6 120.1,261.8 C119.7,266.0 114.1,266.6 112.9,263.0 C112.1,260.0 112.5,256.4 112.5,254.0Z" fill="url(#gb3)"/><path d="M140.0,244.0 C145.4,246.5 158.0,251.5 157.1,260.2 C156.2,269.0 143.6,270.2 140.9,262.8 C139.1,256.5 140.0,249.0 140.0,244.0Z" fill="url(#gb4)"/><path d="M165.0,235.0 C168.0,236.8 175.0,240.4 174.5,246.7 C174.0,253.0 167.0,253.9 165.5,248.5 C164.5,244.0 165.0,238.6 165.0,235.0Z" fill="url(#gb5)"/><path d="M174.0,232.5 C177.6,234.5 186.0,238.5 185.4,245.5 C184.8,252.5 176.4,253.5 174.6,247.5 C173.4,242.5 174.0,236.5 174.0,232.5Z" fill="url(#gb6)"/><path d="M199.0,232.5 C203.8,235.3 215.0,240.9 214.2,250.7 C213.4,260.5 202.2,261.9 199.8,253.5 C198.2,246.5 199.0,238.1 199.0,232.5Z" fill="url(#gb7)"/><path d="M231.0,216.0 C236.4,219.5 249.0,226.5 248.1,238.8 C247.2,251.0 234.6,252.8 231.9,242.2 C230.1,233.5 231.0,223.0 231.0,216.0Z" fill="url(#gb8)"/><path d="M243.0,234.0 C246.0,236.0 253.0,240.0 252.5,247.0 C252.0,254.0 245.0,255.0 243.5,249.0 C242.5,244.0 243.0,238.0 243.0,234.0Z" fill="url(#gb9)"/><path d="M256.0,229.0 C263.5,232.5 281.0,239.5 279.8,251.8 C278.5,264.0 261.0,265.8 257.2,255.2 C254.8,246.5 256.0,236.0 256.0,229.0Z" fill="url(#gb10)"/><path d="M264.0,225.0 C267.6,227.0 276.0,231.0 275.4,238.0 C274.8,245.0 266.4,246.0 264.6,240.0 C263.4,235.0 264.0,229.0 264.0,225.0Z" fill="url(#gb11)"/><path d="M295.0,229.0 C299.5,231.5 310.0,236.5 309.2,245.2 C308.5,254.0 298.0,255.2 295.8,247.8 C294.2,241.5 295.0,234.0 295.0,229.0Z" fill="url(#gb12)"/><path d="M325.0,232.0 C329.5,235.0 340.0,241.0 339.2,251.5 C338.5,262.0 328.0,263.5 325.8,254.5 C324.2,247.0 325.0,238.0 325.0,232.0Z" fill="url(#gb13)"/><path d="M344.0,241.0 C347.0,242.8 354.0,246.4 353.5,252.7 C353.0,259.0 346.0,259.9 344.5,254.5 C343.5,250.0 344.0,244.6 344.0,241.0Z" fill="url(#gb14)"/><path d="M357.0,241.0 C360.0,242.8 367.0,246.4 366.5,252.7 C366.0,259.0 359.0,259.9 357.5,254.5 C356.5,250.0 357.0,244.6 357.0,241.0Z" fill="url(#gb15)"/><path d="M375.0,241.0 C379.5,244.0 390.0,250.0 389.2,260.5 C388.5,271.0 378.0,272.5 375.8,263.5 C374.2,256.0 375.0,247.0 375.0,241.0Z" fill="url(#gb16)"/><path d="M410.0,258.0 C416.0,261.0 430.0,267.0 429.0,277.5 C428.0,288.0 414.0,289.5 411.0,280.5 C409.0,273.0 410.0,264.0 410.0,258.0Z" fill="url(#gb17)"/></g>
</g><g clip-path="url(#cc)">
<g filter="url(#bl1)"><path d="M68.9,449.0 C68.4,452.1 67.6,455.2 68.4,458.4" stroke="#0f4a34" stroke-width="1.4" fill="none" opacity="0.35"/><path d="M78.9,449.9 C78.5,453.7 77.9,457.4 78.5,461.2" stroke="#0f4a34" stroke-width="1.4" fill="none" opacity="0.35"/><path d="M90.7,451.2 C90.3,454.6 89.7,458.0 90.3,461.4" stroke="#0f4a34" stroke-width="1.4" fill="none" opacity="0.35"/><path d="M107.3,442.0 C106.6,445.1 105.7,448.2 106.6,451.2" stroke="#0f4a34" stroke-width="1.5" fill="none" opacity="0.35"/><path d="M115.7,435.8 C115.2,440.2 114.6,444.7 115.2,449.2" stroke="#0f4a34" stroke-width="1.4" fill="none" opacity="0.35"/><path d="M131.8,435.4 C131.2,438.5 130.5,441.7 131.2,444.8" stroke="#0f4a34" stroke-width="1.4" fill="none" opacity="0.35"/><path d="M142.5,433.4 C142.0,437.4 141.3,441.5 142.0,445.5" stroke="#0f4a34" stroke-width="1.4" fill="none" opacity="0.35"/><path d="M154.2,433.8 C153.8,437.8 153.1,441.9 153.8,445.9" stroke="#0f4a34" stroke-width="1.4" fill="none" opacity="0.35"/><path d="M169.0,425.4 C168.3,428.6 167.4,431.8 168.3,435.0" stroke="#0f4a34" stroke-width="1.5" fill="none" opacity="0.35"/><path d="M179.8,424.8 C179.4,429.0 178.8,433.2 179.4,437.4" stroke="#0f4a34" stroke-width="1.4" fill="none" opacity="0.35"/><path d="M197.2,422.0 C196.6,426.1 195.8,430.2 196.6,434.2" stroke="#0f4a34" stroke-width="1.4" fill="none" opacity="0.35"/><path d="M209.1,429.3 C208.6,433.5 207.9,437.7 208.6,441.9" stroke="#0f4a34" stroke-width="1.4" fill="none" opacity="0.35"/><path d="M221.9,429.9 C221.3,433.4 220.4,436.9 221.3,440.5" stroke="#0f4a34" stroke-width="1.5" fill="none" opacity="0.35"/><path d="M231.8,421.9 C231.4,425.1 230.8,428.3 231.4,431.5" stroke="#0f4a34" stroke-width="1.4" fill="none" opacity="0.35"/><path d="M246.8,414.3 C246.3,418.9 245.6,423.4 246.3,428.0" stroke="#0f4a34" stroke-width="1.4" fill="none" opacity="0.35"/><path d="M261.5,421.6 C260.9,426.2 260.1,430.7 260.9,435.3" stroke="#0f4a34" stroke-width="1.5" fill="none" opacity="0.35"/><path d="M272.3,421.9 C271.6,425.2 270.7,428.5 271.6,431.7" stroke="#0f4a34" stroke-width="1.5" fill="none" opacity="0.35"/><path d="M282.1,420.1 C281.6,423.6 280.8,427.0 281.6,430.5" stroke="#0f4a34" stroke-width="1.4" fill="none" opacity="0.35"/><path d="M294.9,423.2 C294.3,427.4 293.4,431.7 294.3,435.9" stroke="#0f4a34" stroke-width="1.5" fill="none" opacity="0.35"/><path d="M310.1,417.9 C309.4,422.3 308.6,426.7 309.4,431.1" stroke="#0f4a34" stroke-width="1.5" fill="none" opacity="0.35"/><path d="M322.9,422.5 C322.5,426.6 321.9,430.7 322.5,434.9" stroke="#0f4a34" stroke-width="1.4" fill="none" opacity="0.35"/><path d="M331.3,418.8 C330.8,421.9 330.1,425.0 330.8,428.0" stroke="#0f4a34" stroke-width="1.4" fill="none" opacity="0.35"/><path d="M340.7,420.8 C340.3,425.3 339.7,429.9 340.3,434.5" stroke="#0f4a34" stroke-width="1.4" fill="none" opacity="0.35"/><path d="M351.7,424.0 C351.2,427.3 350.5,430.5 351.2,433.7" stroke="#0f4a34" stroke-width="1.4" fill="none" opacity="0.35"/><path d="M368.9,429.8 C368.5,433.0 367.9,436.2 368.5,439.4" stroke="#0f4a34" stroke-width="1.4" fill="none" opacity="0.35"/><path d="M381.9,425.9 C381.5,430.6 381.0,435.4 381.5,440.1" stroke="#0f4a34" stroke-width="1.4" fill="none" opacity="0.35"/><path d="M390.2,424.3 C389.7,429.1 389.0,433.8 389.7,438.6" stroke="#0f4a34" stroke-width="1.4" fill="none" opacity="0.35"/><path d="M402.4,436.3 C402.0,440.7 401.4,445.1 402.0,449.5" stroke="#0f4a34" stroke-width="1.4" fill="none" opacity="0.35"/><path d="M417.3,439.5 C416.7,444.3 415.8,449.1 416.7,453.8" stroke="#0f4a34" stroke-width="1.4" fill="none" opacity="0.35"/><path d="M434.9,449.2 C434.4,453.2 433.8,457.1 434.4,461.0" stroke="#0f4a34" stroke-width="1.4" fill="none" opacity="0.35"/><path d="M73.8,446.0 C73.2,450.5 72.4,455.0 73.2,459.5" stroke="#0f4a34" stroke-width="1.4" fill="none" opacity="0.35"/><path d="M102.5,440.0 C101.9,444.5 101.1,449.0 101.9,453.5" stroke="#0f4a34" stroke-width="1.4" fill="none" opacity="0.35"/><path d="M116.0,437.5 C115.5,441.7 114.8,445.9 115.5,450.1" stroke="#0f4a34" stroke-width="1.4" fill="none" opacity="0.35"/><path d="M143.8,430.0 C143.2,434.8 142.4,439.6 143.2,444.4" stroke="#0f4a34" stroke-width="1.4" fill="none" opacity="0.35"/><path d="M151.0,419.0 C150.5,423.2 149.8,427.4 150.5,431.6" stroke="#0f4a34" stroke-width="1.4" fill="none" opacity="0.35"/><path d="M177.5,412.5 C176.8,421.5 175.7,430.5 176.8,439.5" stroke="#0f4a34" stroke-width="1.8" fill="none" opacity="0.35"/><path d="M202.5,415.0 C201.8,421.0 200.7,427.0 201.8,433.0" stroke="#0f4a34" stroke-width="1.8" fill="none" opacity="0.35"/><path d="M231.0,416.0 C230.1,422.0 228.8,428.0 230.1,434.0" stroke="#0f4a34" stroke-width="2.2" fill="none" opacity="0.35"/><path d="M246.0,395.0 C245.4,399.5 244.6,404.0 245.4,408.5" stroke="#0f4a34" stroke-width="1.4" fill="none" opacity="0.35"/><path d="M256.0,410.0 C255.4,417.5 254.6,425.0 255.4,432.5" stroke="#0f4a34" stroke-width="1.4" fill="none" opacity="0.35"/><path d="M271.0,407.5 C270.2,415.0 269.2,422.5 270.2,430.0" stroke="#0f4a34" stroke-width="1.8" fill="none" opacity="0.35"/><path d="M274.0,420.0 C273.4,425.4 272.6,430.8 273.4,436.2" stroke="#0f4a34" stroke-width="1.4" fill="none" opacity="0.35"/><path d="M279.0,400.0 C278.4,404.5 277.6,409.0 278.4,413.5" stroke="#0f4a34" stroke-width="1.4" fill="none" opacity="0.35"/><path d="M290.0,424.0 C289.4,428.8 288.6,433.6 289.4,438.4" stroke="#0f4a34" stroke-width="1.4" fill="none" opacity="0.35"/><path d="M297.5,424.0 C296.9,428.8 296.1,433.6 296.9,438.4" stroke="#0f4a34" stroke-width="1.4" fill="none" opacity="0.35"/><path d="M317.6,422.0 C317.0,429.5 316.2,437.0 317.0,444.5" stroke="#0f4a34" stroke-width="1.4" fill="none" opacity="0.35"/><path d="M339.7,409.0 C339.1,416.5 338.3,424.0 339.1,431.5" stroke="#0f4a34" stroke-width="1.4" fill="none" opacity="0.35"/><path d="M354.0,416.0 C353.5,420.2 352.8,424.4 353.5,428.6" stroke="#0f4a34" stroke-width="1.4" fill="none" opacity="0.35"/><path d="M363.0,425.0 C362.5,429.8 361.8,434.6 362.5,439.4" stroke="#0f4a34" stroke-width="1.4" fill="none" opacity="0.35"/><path d="M370.8,426.0 C370.3,430.8 369.6,435.6 370.3,440.4" stroke="#0f4a34" stroke-width="1.4" fill="none" opacity="0.35"/><path d="M390.3,420.0 C389.6,429.0 388.5,438.0 389.6,447.0" stroke="#0f4a34" stroke-width="1.8" fill="none" opacity="0.35"/><path d="M404.6,440.0 C404.1,444.2 403.4,448.4 404.1,452.6" stroke="#0f4a34" stroke-width="1.4" fill="none" opacity="0.35"/><path d="M426.7,433.0 C425.7,443.5 424.3,454.0 425.7,464.5" stroke="#0f4a34" stroke-width="2.4" fill="none" opacity="0.35"/></g>
<g filter="url(#bl07)"><path d="M68.9,449.0 C72.3,450.0 80.2,452.1 79.6,455.7 C79.1,459.4 71.2,459.9 69.5,456.8 C68.4,454.2 68.9,451.1 68.9,449.0Z" fill="url(#gc0)"/><path d="M78.9,449.9 C81.4,451.1 87.1,453.7 86.7,458.1 C86.3,462.5 80.5,463.1 79.3,459.3 C78.5,456.2 78.9,452.4 78.9,449.9Z" fill="url(#gc1)"/><path d="M90.7,451.2 C93.3,452.3 99.4,454.6 98.9,458.6 C98.5,462.5 92.5,463.1 91.2,459.7 C90.3,456.9 90.7,453.5 90.7,451.2Z" fill="url(#gc2)"/><path d="M107.3,442.0 C111.2,443.0 120.2,445.1 119.5,448.7 C118.9,452.3 109.9,452.8 107.9,449.7 C106.6,447.1 107.3,444.0 107.3,442.0Z" fill="url(#gc3)"/><path d="M115.7,435.8 C118.6,437.3 125.3,440.2 124.8,445.5 C124.3,450.7 117.6,451.4 116.2,446.9 C115.2,443.2 115.7,438.8 115.7,435.8Z" fill="url(#gc4)"/><path d="M131.8,435.4 C135.0,436.5 142.5,438.5 142.0,442.2 C141.4,445.8 133.9,446.3 132.3,443.2 C131.2,440.6 131.8,437.5 131.8,435.4Z" fill="url(#gc5)"/><path d="M142.5,433.4 C145.3,434.7 152.0,437.4 151.5,442.2 C151.1,446.9 144.4,447.6 142.9,443.5 C142.0,440.1 142.5,436.1 142.5,433.4Z" fill="url(#gc6)"/><path d="M154.2,433.8 C157.0,435.2 163.5,437.8 163.0,442.6 C162.5,447.3 156.1,447.9 154.7,443.9 C153.8,440.5 154.2,436.5 154.2,433.8Z" fill="url(#gc7)"/><path d="M169.0,425.4 C172.8,426.4 181.9,428.6 181.2,432.3 C180.6,436.1 171.6,436.6 169.6,433.4 C168.3,430.7 169.0,427.5 169.0,425.4Z" fill="url(#gc8)"/><path d="M179.8,424.8 C182.3,426.2 188.0,429.0 187.6,433.9 C187.2,438.8 181.4,439.5 180.2,435.3 C179.4,431.8 179.8,427.6 179.8,424.8Z" fill="url(#gc9)"/><path d="M197.2,422.0 C200.6,423.4 208.6,426.1 208.1,430.8 C207.5,435.6 199.5,436.3 197.7,432.2 C196.6,428.8 197.2,424.7 197.2,422.0Z" fill="url(#gc10)"/><path d="M209.1,429.3 C212.2,430.7 219.5,433.5 219.0,438.4 C218.5,443.3 211.2,444.0 209.7,439.8 C208.6,436.3 209.1,432.1 209.1,429.3Z" fill="url(#gc11)"/><path d="M221.9,429.9 C225.5,431.1 234.0,433.4 233.4,437.5 C232.8,441.6 224.3,442.2 222.5,438.7 C221.3,435.8 221.9,432.3 221.9,429.9Z" fill="url(#gc12)"/><path d="M231.8,421.9 C234.5,423.0 240.7,425.1 240.2,428.9 C239.8,432.6 233.6,433.1 232.3,429.9 C231.4,427.3 231.8,424.0 231.8,421.9Z" fill="url(#gc13)"/><path d="M246.8,414.3 C249.8,415.8 256.8,418.9 256.3,424.2 C255.8,429.5 248.8,430.3 247.3,425.7 C246.3,421.9 246.8,417.3 246.8,414.3Z" fill="url(#gc14)"/><path d="M261.5,421.6 C265.1,423.1 273.6,426.2 273.0,431.5 C272.4,436.8 263.9,437.5 262.1,433.0 C260.9,429.2 261.5,424.6 261.5,421.6Z" fill="url(#gc15)"/><path d="M272.3,421.9 C276.1,423.0 285.1,425.2 284.4,429.0 C283.8,432.8 274.8,433.4 272.9,430.1 C271.6,427.4 272.3,424.1 272.3,421.9Z" fill="url(#gc16)"/><path d="M282.1,420.1 C285.4,421.2 293.1,423.6 292.5,427.6 C292.0,431.7 284.3,432.2 282.7,428.8 C281.6,425.9 282.1,422.4 282.1,420.1Z" fill="url(#gc17)"/><path d="M294.9,423.2 C298.7,424.6 307.7,427.4 307.0,432.4 C306.4,437.3 297.4,438.0 295.5,433.8 C294.3,430.2 294.9,426.0 294.9,423.2Z" fill="url(#gc18)"/><path d="M310.1,417.9 C313.8,419.4 322.6,422.3 321.9,427.5 C321.3,432.6 312.6,433.3 310.7,428.9 C309.4,425.3 310.1,420.9 310.1,417.9Z" fill="url(#gc19)"/><path d="M322.9,422.5 C325.5,423.8 331.5,426.6 331.0,431.4 C330.6,436.3 324.6,437.0 323.4,432.8 C322.5,429.4 322.9,425.2 322.9,422.5Z" fill="url(#gc20)"/><path d="M331.3,418.8 C334.2,419.8 341.0,421.9 340.5,425.5 C340.0,429.1 333.2,429.6 331.8,426.5 C330.8,423.9 331.3,420.8 331.3,418.8Z" fill="url(#gc21)"/><path d="M340.7,420.8 C343.2,422.3 348.8,425.3 348.4,430.7 C348.0,436.0 342.3,436.8 341.1,432.2 C340.3,428.4 340.7,423.8 340.7,420.8Z" fill="url(#gc22)"/><path d="M351.7,424.0 C354.6,425.1 361.5,427.3 361.0,431.0 C360.5,434.8 353.6,435.3 352.2,432.1 C351.2,429.4 351.7,426.2 351.7,424.0Z" fill="url(#gc23)"/><path d="M368.9,429.8 C371.4,430.9 377.3,433.0 376.9,436.7 C376.5,440.4 370.6,440.9 369.3,437.8 C368.5,435.1 368.9,431.9 368.9,429.8Z" fill="url(#gc24)"/><path d="M381.9,425.9 C384.4,427.5 390.0,430.6 389.6,436.1 C389.2,441.6 383.6,442.4 382.3,437.7 C381.5,433.8 381.9,429.1 381.9,425.9Z" fill="url(#gc25)"/><path d="M390.2,424.3 C393.4,425.9 400.9,429.1 400.4,434.6 C399.8,440.2 392.4,441.0 390.8,436.2 C389.7,432.3 390.2,427.5 390.2,424.3Z" fill="url(#gc26)"/><path d="M402.4,436.3 C405.1,437.8 411.3,440.7 410.8,445.8 C410.4,450.9 404.2,451.7 402.9,447.3 C402.0,443.6 402.4,439.2 402.4,436.3Z" fill="url(#gc27)"/><path d="M417.3,439.5 C420.9,441.1 429.3,444.3 428.7,449.8 C428.1,455.4 419.7,456.2 417.9,451.4 C416.7,447.5 417.3,442.7 417.3,439.5Z" fill="url(#gc28)"/><path d="M434.9,449.2 C437.6,450.6 444.0,453.2 443.5,457.8 C443.1,462.3 436.7,463.0 435.3,459.1 C434.4,455.8 434.9,451.9 434.9,449.2Z" fill="url(#gc29)"/><path d="M73.8,446.0 C77.4,447.5 85.8,450.5 85.2,455.8 C84.6,461.0 76.2,461.8 74.4,457.2 C73.2,453.5 73.8,449.0 73.8,446.0Z" fill="url(#gc30)"/><path d="M102.5,440.0 C106.1,441.5 114.5,444.5 113.9,449.8 C113.3,455.0 104.9,455.8 103.1,451.2 C101.9,447.5 102.5,443.0 102.5,440.0Z" fill="url(#gc31)"/><path d="M116.0,437.5 C119.0,438.9 126.0,441.7 125.5,446.6 C125.0,451.5 118.0,452.2 116.5,448.0 C115.5,444.5 116.0,440.3 116.0,437.5Z" fill="url(#gc32)"/><path d="M143.8,430.0 C147.4,431.6 155.8,434.8 155.2,440.4 C154.6,446.0 146.2,446.8 144.4,442.0 C143.2,438.0 143.8,433.2 143.8,430.0Z" fill="url(#gc33)"/><path d="M151.0,419.0 C154.0,420.4 161.0,423.2 160.5,428.1 C160.0,433.0 153.0,433.7 151.5,429.5 C150.5,426.0 151.0,421.8 151.0,419.0Z" fill="url(#gc34)"/><path d="M177.5,412.5 C182.0,415.5 192.5,421.5 191.8,432.0 C191.0,442.5 180.5,444.0 178.2,435.0 C176.8,427.5 177.5,418.5 177.5,412.5Z" fill="url(#gc35)"/><path d="M202.5,415.0 C207.0,417.0 217.5,421.0 216.8,428.0 C216.0,435.0 205.5,436.0 203.2,430.0 C201.8,425.0 202.5,419.0 202.5,415.0Z" fill="url(#gc36)"/><path d="M231.0,416.0 C236.4,418.0 249.0,422.0 248.1,429.0 C247.2,436.0 234.6,437.0 231.9,431.0 C230.1,426.0 231.0,420.0 231.0,416.0Z" fill="url(#gc37)"/><path d="M246.0,395.0 C249.6,396.5 258.0,399.5 257.4,404.8 C256.8,410.0 248.4,410.8 246.6,406.2 C245.4,402.5 246.0,398.0 246.0,395.0Z" fill="url(#gc38)"/><path d="M256.0,410.0 C259.6,412.5 268.0,417.5 267.4,426.2 C266.8,435.0 258.4,436.2 256.6,428.8 C255.4,422.5 256.0,415.0 256.0,410.0Z" fill="url(#gc39)"/><path d="M271.0,407.5 C275.5,410.0 286.0,415.0 285.2,423.8 C284.5,432.5 274.0,433.8 271.8,426.2 C270.2,420.0 271.0,412.5 271.0,407.5Z" fill="url(#gc40)"/><path d="M274.0,420.0 C277.6,421.8 286.0,425.4 285.4,431.7 C284.8,438.0 276.4,438.9 274.6,433.5 C273.4,429.0 274.0,423.6 274.0,420.0Z" fill="url(#gc41)"/><path d="M279.0,400.0 C282.6,401.5 291.0,404.5 290.4,409.8 C289.8,415.0 281.4,415.8 279.6,411.2 C278.4,407.5 279.0,403.0 279.0,400.0Z" fill="url(#gc42)"/><path d="M290.0,424.0 C293.6,425.6 302.0,428.8 301.4,434.4 C300.8,440.0 292.4,440.8 290.6,436.0 C289.4,432.0 290.0,427.2 290.0,424.0Z" fill="url(#gc43)"/><path d="M297.5,424.0 C301.1,425.6 309.5,428.8 308.9,434.4 C308.3,440.0 299.9,440.8 298.1,436.0 C296.9,432.0 297.5,427.2 297.5,424.0Z" fill="url(#gc44)"/><path d="M317.6,422.0 C321.2,424.5 329.6,429.5 329.0,438.2 C328.4,447.0 320.0,448.2 318.2,440.8 C317.0,434.5 317.6,427.0 317.6,422.0Z" fill="url(#gc45)"/><path d="M339.7,409.0 C343.3,411.5 351.7,416.5 351.1,425.2 C350.5,434.0 342.1,435.2 340.3,427.8 C339.1,421.5 339.7,414.0 339.7,409.0Z" fill="url(#gc46)"/><path d="M354.0,416.0 C357.0,417.4 364.0,420.2 363.5,425.1 C363.0,430.0 356.0,430.7 354.5,426.5 C353.5,423.0 354.0,418.8 354.0,416.0Z" fill="url(#gc47)"/><path d="M363.0,425.0 C366.0,426.6 373.0,429.8 372.5,435.4 C372.0,441.0 365.0,441.8 363.5,437.0 C362.5,433.0 363.0,428.2 363.0,425.0Z" fill="url(#gc48)"/><path d="M370.8,426.0 C373.8,427.6 380.8,430.8 380.3,436.4 C379.8,442.0 372.8,442.8 371.3,438.0 C370.3,434.0 370.8,429.2 370.8,426.0Z" fill="url(#gc49)"/><path d="M390.3,420.0 C394.8,423.0 405.3,429.0 404.6,439.5 C403.8,450.0 393.3,451.5 391.1,442.5 C389.6,435.0 390.3,426.0 390.3,420.0Z" fill="url(#gc50)"/><path d="M404.6,440.0 C407.6,441.4 414.6,444.2 414.1,449.1 C413.6,454.0 406.6,454.7 405.1,450.5 C404.1,447.0 404.6,442.8 404.6,440.0Z" fill="url(#gc51)"/><path d="M426.7,433.0 C432.7,436.5 446.7,443.5 445.7,455.8 C444.7,468.0 430.7,469.8 427.7,459.2 C425.7,450.5 426.7,440.0 426.7,433.0Z" fill="url(#gc52)"/></g>
</g>
<g fill="none" stroke-linecap="round">
<g clip-path="url(#ca)"><path d="M56.5,22 L90,21 L150,22.5 L220,21.5 L300,22.5 L380,21.5 L424,22" stroke="#0e5a3c" stroke-width="2.2" opacity="0.55" transform="translate(0,0.6)"/>
<path d="M416,169 L300,169.5 L200,170.5 L98,171 L48,170" stroke="#0e5a3c" stroke-width="2" opacity="0.5" transform="translate(0,-0.3)"/></g>
<g clip-path="url(#cbp)"><path d="M65.5,198 L150,198.3 L250,197.7 L350,198.2 L438,197.6" stroke="#115c40" stroke-width="2.2" opacity="0.55" transform="translate(0,0.6)"/>
<path d="M428.3,344.8 L300,345 L200,344.6 L100,345 L57.8,344.8" stroke="#0e4a34" stroke-width="2" opacity="0.65" transform="translate(0,-0.3)"/></g>
<g clip-path="url(#cc)"><path d="M72.2,369.6 L150,369.9 L250,369.4 L350,369.8 L449,369.4" stroke="#115c40" stroke-width="2.4" opacity="0.6" transform="translate(0,0.6)"/>
<path d="M439.7,515 L64,515" stroke="#0e4a34" stroke-width="2" opacity="0.6" transform="translate(0,-0.3)"/></g>
</g>
<path d="M435.6,197L434.8,230L433.2,265" stroke="#123a2a" stroke-width="1" fill="none" opacity="0.8"/>
<rect x="452" y="150" width="14" height="191.5" fill="url(#cb)"/>
<g class="t" font-size="7.7">
<text x="445.4" y="138.4" font-size="8.1">Aperture (cm)</text>
<text x="470" y="160">0.055</text>
<text x="470" y="180">0.05</text>
<text x="470" y="200">0.045</text>
<text x="470" y="220">0.04</text>
<text x="470" y="240">0.035</text>
<text x="470" y="259.5">0.03</text>
<text x="470" y="279.5">0.025</text>
<text x="470" y="299.5">0.02</text>
<text x="470" y="319.5">0.015</text>
<text x="470" y="339">0.01</text>
</g>
<g class="t" font-size="8">
<text x="219" y="11.3">(a) 0 ka</text>
<text x="213.4" y="193">(b) 10 ka</text>
<text x="219.5" y="361.8">(c) 20 ka</text>
<text x="318.5" y="182">X (m)</text>
<text x="313" y="356.2">X (m)</text>
<text x="316" y="529.4">X (m)</text>
<text x="429.4" y="100.5">Y (m)</text>
<text x="431.5" y="281.5">Y (m)</text>
<text x="459.5" y="448.7">Y (m)</text>
<text x="67.5" y="524" text-anchor="middle">0</text>
<text x="142.8" y="524" text-anchor="middle">400</text>
<text x="219.2" y="524" text-anchor="middle">800</text>
<text x="295.2" y="524" text-anchor="middle">1200</text>
<text x="371.3" y="524" text-anchor="middle">1600</text>
<text x="451.2" y="403.5">300</text>
<text x="450" y="432.2">200</text>
<text x="446.3" y="462">100</text>
<text x="447.3" y="491">0</text>
<text transform="translate(21.5,128.6) rotate(-90)" text-anchor="middle" font-size="8.4">Aperture (cm)</text>
<text transform="translate(21.5,291) rotate(-90)" text-anchor="middle" font-size="8.4">Aperture (cm)</text>
<text transform="translate(26,461.8) rotate(-90)" text-anchor="middle" font-size="8.4">Aperture (cm)</text>
</g>
<g class="t" font-size="7" text-anchor="end">
<text x="22.2" y="163.8">0.012</text>
<text x="26.8" y="173.4">0.01</text>
<text x="35" y="180.5">0.008</text>
<text x="26.8" y="326.8">0.04</text>
<text x="40" y="341.7">0.02</text>
<text x="26.2" y="498.5">0.06</text>
<text x="34.6" y="506.9">0.04</text>
<text x="42.3" y="515.7">0.02</text>
</g>
</svg>
</body></html>
